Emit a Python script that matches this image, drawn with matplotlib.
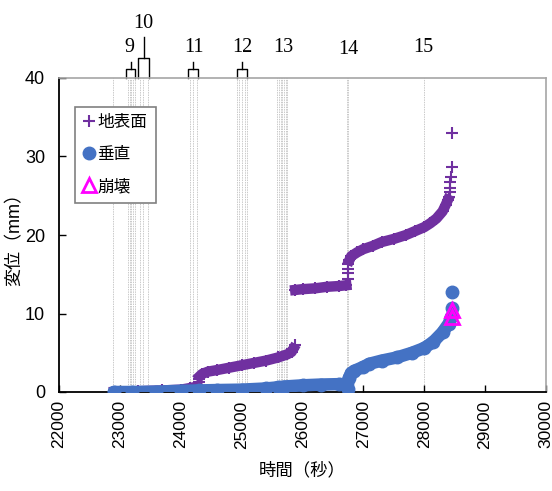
import numpy as np
import matplotlib
matplotlib.use('Agg')
from matplotlib import pyplot as plt

plt.rcParams['font.family'] = ['Liberation Sans', 'Noto Sans CJK JP', 'DejaVu Sans']

nan = np.nan

# 地表面 (band segments, nan = gap at the jumps)
surf_t = [22900, 23300, 23700, 24000, 24150, 24280, nan,
          24310, 24350, 24450, 24600, 24800, 25000, 25200, 25400, 25600, 25750, 25820, 25850, nan,
          25880, 26000, 26200, 26400, 26600, 26720, nan,
          26770, 26800, 26900, 27000, 27150, 27300, 27500, 27700, 27850, 28000, 28100, 28200,
          28300, 28350, 28390]
surf_d = [0.0, 0.1, 0.2, 0.3, 0.5, 0.7, nan,
          2.0, 2.3, 2.6, 2.8, 3.1, 3.4, 3.7, 4.0, 4.4, 4.8, 5.1, 5.5, nan,
          13.0, 13.1, 13.2, 13.4, 13.5, 13.6, nan,
          16.8, 17.3, 17.8, 18.2, 18.6, 19.1, 19.5, 20.0, 20.5, 21.0, 21.5, 22.1,
          23.0, 23.8, 24.5]
# isolated 地表面 points
surf_pt_t = [24300, 24305, 25870, 26750, 26750, 26752, 26755, 28410, 28418, 28425, 28430, 28435, 28450, 28462]
surf_pt_d = [1.3, 1.7, 6.0, 14.4, 15.1, 15.7, 16.3, 24.9, 25.5, 26.0, 26.7, 27.4, 28.6, 33.0]

# 垂直
vert_t = [22900, 23200, 23600, 24000, 24300, 24600, 25000, 25400, 25600, 25700, 26000, 26300, 26600,
          26700, 26740, 26760, 26800, 26850, 27000, 27100, 27300, 27550, 27800, 28000, 28150, 28300,
          28400, 28440]
vert_d = [0.0, 0.0, 0.05, 0.15, 0.2, 0.25, 0.3, 0.45, 0.6, 0.7, 0.85, 0.95, 1.0,
          1.0, 0.4, 1.8, 2.4, 2.7, 3.2, 3.6, 4.0, 4.4, 5.0, 5.6, 6.4, 7.6,
          8.7, 9.5]
vert_pt_t = [28460, 28462]
vert_pt_d = [10.7, 12.7]

# 崩壊
coll_t = [28450, 28455]
coll_d = [9.6, 10.4]

# event lines and labels
ev_lines = [22890, 23130, 23160, 23190, 23220, 23250, 23330, 23380, 23460,
            24150, 24200, 24265, 24925, 24960, 25010, 25050, 25090,
            25580, 25610, 25640, 25670, 25700, 25730, 25750, 26735, 26755, 28000]
ev_names = ['9', '10', '11', '12', '13', '14', '15']
ev_name_x = [23150, 23380, 24220, 25020, 25680, 26750, 27980]
ev_name_y = [1.096, 1.172, 1.096, 1.096, 1.096, 1.09, 1.096]
br_x0 = [23100, 23300, 24120, 24925]
br_x1 = [23250, 23480, 24285, 25090]
br_top = [1.029, 1.064, 1.029, 1.029]
br_stem = [1.051, 1.131, 1.051, 1.051]

fig = plt.figure(figsize=(5.52, 4.91), dpi=100)
ax = fig.add_axes([59/552, 99/491, 487/552, 314/491])

for t in ev_lines:
    ax.axvline(t, color='#cacaca', lw=0.7, ls=(0, (1.5, 1)), zorder=1)

purple = '#7030A0'
blue = '#4472C4'
ax.plot(surf_t, surf_d, '-', color=purple, lw=7.5, zorder=2)
ax.plot([t for t in surf_t if t == t], [d for d in surf_d if d == d], '+',
        color=purple, ms=9, mew=1.5, zorder=2, label='地表面')
ax.plot(surf_pt_t, surf_pt_d, '+', color=purple, ms=9, mew=1.5, zorder=2)

ax.plot(vert_t, vert_d, '-', color=blue, lw=9, solid_capstyle='round', zorder=3)
ax.plot(vert_t, vert_d, 'o', color=blue, ms=9, zorder=3, label='垂直')
ax.plot(vert_pt_t, vert_pt_d, 'o', color=blue, ms=9, zorder=3)

ax.plot(coll_t, coll_d, '^', mfc='none', mec='#FF00FF', mew=2, ms=10, zorder=4, label='崩壊')

ax.set_xlim(22000, 30000)
ax.set_ylim(0, 40)
ax.set_xticks(range(22000, 30001, 1000))
ax.set_yticks([0, 10, 20, 30, 40])
ax.tick_params(axis='x', direction='in', length=5, width=1, labelsize=12.5, rotation=90, pad=6)
ax.tick_params(axis='y', direction='in', length=5, width=1, labelsize=13, pad=10)
for s in ['left', 'bottom']:
    ax.spines[s].set_color('black')
    ax.spines[s].set_linewidth(1.3)
for s in ['top', 'right']:
    ax.spines[s].set_color('#a6a6a6')
    ax.spines[s].set_linewidth(1.2)

# brackets and event numbers above the plot
tr = ax.get_xaxis_transform()
for x0, x1, top, stem in zip(br_x0, br_x1, br_top, br_stem):
    xc = (x0 + x1) / 2
    ax.plot([x0, x0, x1, x1], [1.0, top, top, 1.0], color='black', lw=1, transform=tr, clip_on=False)
    ax.plot([xc, xc], [top, stem], color='black', lw=1, transform=tr, clip_on=False)
for name, x, y in zip(ev_names, ev_name_x, ev_name_y):
    ax.text(x, y, name, transform=tr, ha='center', va='center',
            family='Liberation Serif', fontsize=14.5)

leg = ax.legend(loc='upper left', bbox_to_anchor=(0.033, 0.908), borderaxespad=0,
                fancybox=False, edgecolor='#808080', framealpha=1, fontsize=12,
                handlelength=0.7, handletextpad=0.15, labelspacing=1.0, borderpad=0.5)
leg.get_frame().set_linewidth(1.2)

fig.text(15/552, 1 - 235/491, '変位（mm）', rotation=90, ha='center', va='center', fontsize=13)
fig.text(302/552, 1 - 470/491, '時間（秒）', ha='center', va='center', fontsize=12.5)

fig.savefig('out.png', dpi=100)
